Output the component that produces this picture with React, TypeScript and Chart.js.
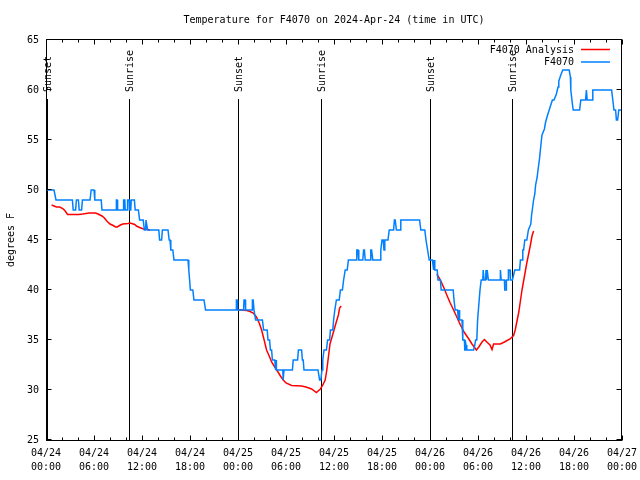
import React, { useEffect, useRef } from 'react';
import { Chart, registerables } from 'chart.js';

Chart.register(...registerables);

const FONT = '"DejaVu Sans Mono", "Liberation Mono", monospace';

const chartTitle = 'Temperature for F4070 on 2024-Apr-24 (time in UTC)';
const yAxisTitle = 'degrees F';

// hours since 04/24 00:00 UTC
const xTickDates = ['04/24', '04/24', '04/24', '04/24', '04/25', '04/25', '04/25', '04/25', '04/26', '04/26', '04/26', '04/26', '04/27'];
const xTickTimes = ['00:00', '06:00', '12:00', '18:00', '00:00', '06:00', '12:00', '18:00', '00:00', '06:00', '12:00', '18:00', '00:00'];

const sunEventHours = [0.1, 10.37, 24.02, 34.42, 48.05, 58.3];
const sunEventLabels = ['Sunset', 'Sunrise', 'Sunset', 'Sunrise', 'Sunset', 'Sunrise'];

const stationLabel = 'F4070';
const analysisLabel = 'F4070 Analysis';
const stationColor = '#0080ff';
const analysisColor = '#ff0000';

// F4070 observations: [hour, °F]
const stationReadings: [number, number][] = [
  [0.0, 50], [1.0, 50], [1.25, 49], [3.3, 49], [3.4, 48], [3.7, 48], [3.8, 49], [4.05, 49], [4.15, 48], [4.45, 48],
  [4.55, 49], [5.5, 49], [5.65, 50], [6.0, 50], [6.1, 49], [6.9, 49], [7.0, 48], [8.75, 48], [8.8, 49], [8.9, 49],
  [8.95, 48], [9.65, 48], [9.7, 49], [9.85, 49], [9.9, 48], [10.15, 48], [10.2, 49], [10.4, 49], [10.45, 48], [10.6, 48],
  [10.65, 49], [11.05, 49], [11.15, 48], [11.55, 48], [11.7, 47], [12.15, 47], [12.3, 46], [12.45, 46], [12.5, 47], [12.6, 47],
  [12.7, 46], [14.1, 46], [14.2, 45], [14.45, 45], [14.55, 46], [15.25, 46], [15.4, 45], [15.5, 45], [15.6, 44], [15.85, 44],
  [16.0, 43], [17.75, 43], [17.85, 42], [17.95, 41], [18.05, 40], [18.35, 40], [18.5, 39], [19.75, 39], [19.95, 38], [23.75, 38],
  [23.8, 39], [23.9, 39], [23.95, 38], [24.7, 38], [24.75, 39], [24.9, 39], [24.95, 38], [25.75, 38], [25.8, 39], [25.9, 39],
  [26.0, 38], [26.2, 37], [27.05, 37], [27.2, 36], [27.65, 36], [27.75, 35], [27.95, 35], [28.05, 34], [28.2, 34], [28.3, 33],
  [28.6, 33], [28.7, 32], [28.75, 33], [28.8, 32], [29.6, 32], [29.65, 31], [29.75, 32], [30.8, 32], [30.9, 33], [31.45, 33],
  [31.55, 34], [31.95, 34], [32.05, 33], [32.15, 33], [32.25, 32], [34.0, 32], [34.2, 31], [34.35, 31], [34.5, 32], [34.6, 33],
  [34.75, 34], [35.05, 34], [35.2, 35], [35.45, 35], [35.55, 36], [35.85, 36], [35.95, 37], [36.1, 38], [36.3, 39], [36.65, 39],
  [36.8, 40], [37.05, 40], [37.2, 41], [37.4, 42], [37.65, 42], [37.8, 43], [38.75, 43], [38.85, 44], [39.0, 44], [39.1, 43],
  [39.6, 43], [39.7, 44], [39.8, 44], [39.9, 43], [40.5, 43], [40.6, 44], [40.7, 44], [40.85, 43], [41.75, 43], [41.85, 44],
  [42.0, 45], [42.15, 45], [42.25, 44], [42.35, 45], [42.75, 45], [42.9, 46], [43.45, 46], [43.55, 47], [43.65, 47], [43.8, 46],
  [44.25, 46], [44.35, 47], [46.7, 47], [46.85, 46], [47.35, 46], [47.5, 45], [47.7, 44], [47.9, 43], [48.3, 43], [48.45, 42],
  [48.5, 43], [48.6, 42], [48.9, 42], [49.0, 41], [49.3, 41], [49.4, 40], [50.9, 40], [51.0, 39], [51.15, 38], [51.45, 38],
  [51.55, 37], [51.65, 38], [51.7, 37], [52.0, 37], [52.1, 35], [52.3, 35], [52.35, 34], [52.45, 34], [52.5, 34.5], [52.6, 34],
  [53.45, 34], [53.6, 34.5], [53.7, 35], [53.85, 35], [53.95, 37], [54.05, 38], [54.15, 39], [54.25, 40], [54.4, 41], [54.6, 41],
  [54.65, 42], [54.75, 41], [54.95, 41], [55.0, 42], [55.05, 41], [55.15, 42], [55.3, 41], [56.75, 41], [56.8, 42], [56.9, 41],
  [57.3, 41], [57.35, 40], [57.5, 40], [57.55, 41], [57.75, 41], [57.8, 42], [58.0, 42], [58.05, 41], [58.3, 41], [58.45, 41.5],
  [58.6, 42], [59.2, 42], [59.3, 43], [59.5, 43], [59.6, 44], [59.7, 44], [59.85, 45], [60.1, 45], [60.3, 46], [60.6, 46.6],
  [60.7, 47.5], [60.8, 48.1], [60.95, 49], [61.1, 49.6], [61.2, 50.5], [61.4, 51.3], [61.5, 52], [61.67, 53], [61.8, 54], [61.9, 54.8],
  [62.0, 55.5], [62.3, 56.1], [62.45, 56.8], [62.7, 57.5], [62.9, 58], [63.1, 58.5], [63.3, 59], [63.5, 59], [63.8, 59.6], [64.0, 60.3],
  [64.1, 60.9], [64.35, 61.5], [64.6, 62], [65.4, 62], [65.55, 61.3], [65.6, 60], [65.7, 59.3], [65.8, 58.6], [65.9, 58], [66.7, 58],
  [66.85, 59], [67.45, 59], [67.55, 60], [67.65, 59], [68.25, 59], [68.35, 60], [70.7, 60], [70.85, 59], [71.0, 58], [71.2, 58],
  [71.3, 57], [71.45, 57], [71.6, 58], [72.0, 58],
];

// F4070 Analysis, three night-time segments: [hour, °F]
const analysisNight1: [number, number][] = [
  [0.7, 48.5], [1.3, 48.3], [1.7, 48.3], [2.1, 48.15], [2.4, 47.9], [2.7, 47.55], [4.1, 47.55], [4.6, 47.6], [5.4, 47.7], [6.2, 47.7],
  [6.5, 47.6], [7.0, 47.4], [7.3, 47.2], [7.6, 46.9], [8.0, 46.6], [8.4, 46.45], [8.7, 46.3], [8.9, 46.3], [9.3, 46.5], [9.6, 46.6],
  [10.25, 46.65], [10.5, 46.7], [10.9, 46.6], [11.1, 46.55], [11.3, 46.4], [11.7, 46.25], [12.2, 46.1], [12.75, 46.05], [13.0, 46.0],
];
const analysisNight2: [number, number][] = [
  [24.0, 38.0], [24.5, 38.0], [25.1, 37.95], [25.5, 37.85], [25.9, 37.7], [26.3, 37.3], [26.65, 36.7], [26.95, 36.0], [27.27, 35.0], [27.57, 34.0],
  [27.9, 33.4], [28.2, 32.8], [28.6, 32.3], [29.0, 31.8], [29.3, 31.4], [29.65, 31.0], [30.0, 30.7], [30.7, 30.45], [31.95, 30.4], [32.5, 30.3],
  [33.2, 30.1], [33.8, 29.75], [34.3, 30.1], [34.6, 30.5], [34.9, 31.0], [35.1, 32.0], [35.3, 33.3], [35.5, 34.6], [35.75, 35.3], [36.0, 36.0],
  [36.25, 36.7], [36.55, 37.5], [36.7, 38.2], [36.9, 38.4],
];
const analysisNight3: [number, number][] = [
  [48.85, 41.6], [49.3, 41.0], [49.8, 40.1], [50.1, 39.5], [50.5, 38.75], [50.95, 38.0], [51.35, 37.3], [51.8, 36.5], [52.3, 35.75], [52.85, 35.1],
  [53.25, 34.6], [53.8, 34.0], [54.1, 34.3], [54.5, 34.8], [54.8, 35.05], [55.1, 34.8], [55.5, 34.5], [55.75, 34.05], [55.95, 34.6], [56.8, 34.6],
  [57.3, 34.8], [58.0, 35.1], [58.45, 35.45], [58.65, 36.0], [58.9, 37.0], [59.1, 37.8], [59.3, 38.9], [59.5, 40.0], [59.7, 40.9], [59.9, 41.8],
  [60.1, 42.7], [60.3, 43.5], [60.55, 44.5], [60.75, 45.4], [60.95, 45.9],
];

const yMin = 25;
const yMax = 65;
const yStep = 5;
const xMin = 0;
const xMax = 72;
const xMajorStep = 6;
const xMinorStep = 2;

const toPoints = (rows: [number, number][]) => rows.map(([x, y]) => ({ x, y }));
const gap = { x: NaN, y: null as any };

const zeroPadding = (s: any) => {
  s.paddingLeft = 0;
  s.paddingRight = 0;
  s.paddingTop = 0;
  s.paddingBottom = 0;
};

const decorPlugin = {
  id: 'gnuplotDecor',
  beforeDatasetsDraw(chart: any) {
    const { ctx, chartArea: a, scales } = chart;
    const xs = scales.x;
    ctx.save();
    ctx.strokeStyle = '#000';
    ctx.fillStyle = '#000';
    ctx.lineWidth = 1;
    ctx.font = `10px ${FONT}`;
    sunEventHours.forEach((h, i) => {
      const px = Math.round(xs.getPixelForValue(h)) + 0.5;
      ctx.beginPath();
      ctx.moveTo(px, 99);
      ctx.lineTo(px, a.bottom);
      ctx.stroke();
      ctx.save();
      ctx.translate(px + 1, 92);
      ctx.rotate(-Math.PI / 2);
      ctx.textAlign = 'left';
      ctx.textBaseline = 'middle';
      ctx.fillText(sunEventLabels[i], 0, 0);
      ctx.restore();
    });
    ctx.restore();
  },
  afterDraw(chart: any) {
    const { ctx, chartArea: a, scales } = chart;
    const xs = scales.x;
    const ys = scales.y;
    ctx.save();
    ctx.strokeStyle = '#000';
    ctx.lineWidth = 1;
    const L = a.left + 0.5;
    const R = a.right - 0.5;
    const T = a.top - 0.5;
    const B = a.bottom + 0.5;
    ctx.strokeRect(L, T, R - L, B - T);
    ctx.beginPath();
    for (let h = xMin; h <= xMax; h += xMinorStep) {
      const px = Math.round(xs.getPixelForValue(h)) + 0.5;
      const len = h % xMajorStep === 0 ? 5 : 3;
      ctx.moveTo(px, B);
      ctx.lineTo(px, B - len);
      ctx.moveTo(px, T);
      ctx.lineTo(px, T + len);
    }
    for (let v = yMin; v <= yMax; v += yStep) {
      const py = Math.round(ys.getPixelForValue(v)) - 0.5;
      ctx.moveTo(L, py);
      ctx.lineTo(L + 5, py);
      ctx.moveTo(R, py);
      ctx.lineTo(R - 5, py);
    }
    ctx.stroke();

    // title
    ctx.fillStyle = '#000';
    ctx.font = `10px ${FONT}`;
    ctx.textAlign = 'center';
    ctx.textBaseline = 'middle';
    ctx.fillText(chartTitle, (a.left + a.right) / 2, 20);

    // legend (gnuplot style: right-aligned text, line sample)
    const entries = [chart.data.datasets[1], chart.data.datasets[0]];
    entries.forEach((ds: any, i: number) => {
      const y = 50 + i * 12.5;
      ctx.textAlign = 'right';
      ctx.fillStyle = '#000';
      ctx.fillText(ds.label, 574, y);
      ctx.strokeStyle = ds.borderColor;
      ctx.lineWidth = 1.5;
      ctx.beginPath();
      ctx.moveTo(581, y - 0.5);
      ctx.lineTo(610, y - 0.5);
      ctx.stroke();
    });
    ctx.restore();
  },
};

export default function App() {
  const canvasRef = useRef<HTMLCanvasElement | null>(null);

  useEffect(() => {
    if (!canvasRef.current) return;
    const analysisData = [
      ...toPoints(analysisNight1), gap,
      ...toPoints(analysisNight2), gap,
      ...toPoints(analysisNight3),
    ];
    const chart = new Chart(canvasRef.current, {
      type: 'line',
      data: {
        datasets: [
          {
            label: stationLabel,
            data: toPoints(stationReadings),
            borderColor: stationColor,
            backgroundColor: stationColor,
            borderWidth: 1.5,
            pointRadius: 0,
            tension: 0,
            order: 0,
          },
          {
            label: analysisLabel,
            data: analysisData,
            borderColor: analysisColor,
            backgroundColor: analysisColor,
            borderWidth: 1.5,
            pointRadius: 0,
            tension: 0,
            spanGaps: false,
            order: 1,
          },
        ],
      },
      options: {
        animation: false,
        responsive: false,
        devicePixelRatio: 1,
        layout: { padding: { top: 40, right: 18, bottom: 0, left: 0 } },
        plugins: {
          legend: { display: false },
          title: { display: false },
          tooltip: { enabled: false },
        },
        scales: {
          x: {
            type: 'linear',
            min: xMin,
            max: xMax,
            grid: { display: false, drawTicks: false },
            border: { display: false },
            afterFit: (s: any) => { s.height = 40; zeroPadding(s); },
            afterBuildTicks: (s: any) => {
              s.ticks = xTickDates.map((_, i) => ({ value: xMin + i * xMajorStep }));
            },
            ticks: {
              color: '#000',
              padding: 6,
              maxRotation: 0,
              autoSkip: false,
              font: { family: FONT, size: 10, lineHeight: 1.4 },
              callback: (v: any) => {
                const i = Math.round((Number(v) - xMin) / xMajorStep);
                return [xTickDates[i], xTickTimes[i]];
              },
            },
          },
          y: {
            type: 'linear',
            min: yMin,
            max: yMax,
            grid: { display: false, drawTicks: false },
            border: { display: false },
            afterFit: (s: any) => { s.width = 46; zeroPadding(s); },
            ticks: {
              color: '#000',
              padding: 7,
              stepSize: yStep,
              font: { family: FONT, size: 10 },
            },
            title: {
              display: true,
              text: yAxisTitle,
              color: '#000',
              padding: { top: 5, bottom: 0 },
              font: { family: FONT, size: 10 },
            },
          },
        },
      },
      plugins: [decorPlugin],
    });
    return () => chart.destroy();
  }, []);

  return (
    <div style={{ position: 'absolute', left: 0, top: 0, width: 640, height: 480, background: '#fff' }}>
      <canvas ref={canvasRef} width={640} height={480} />
    </div>
  );
}
